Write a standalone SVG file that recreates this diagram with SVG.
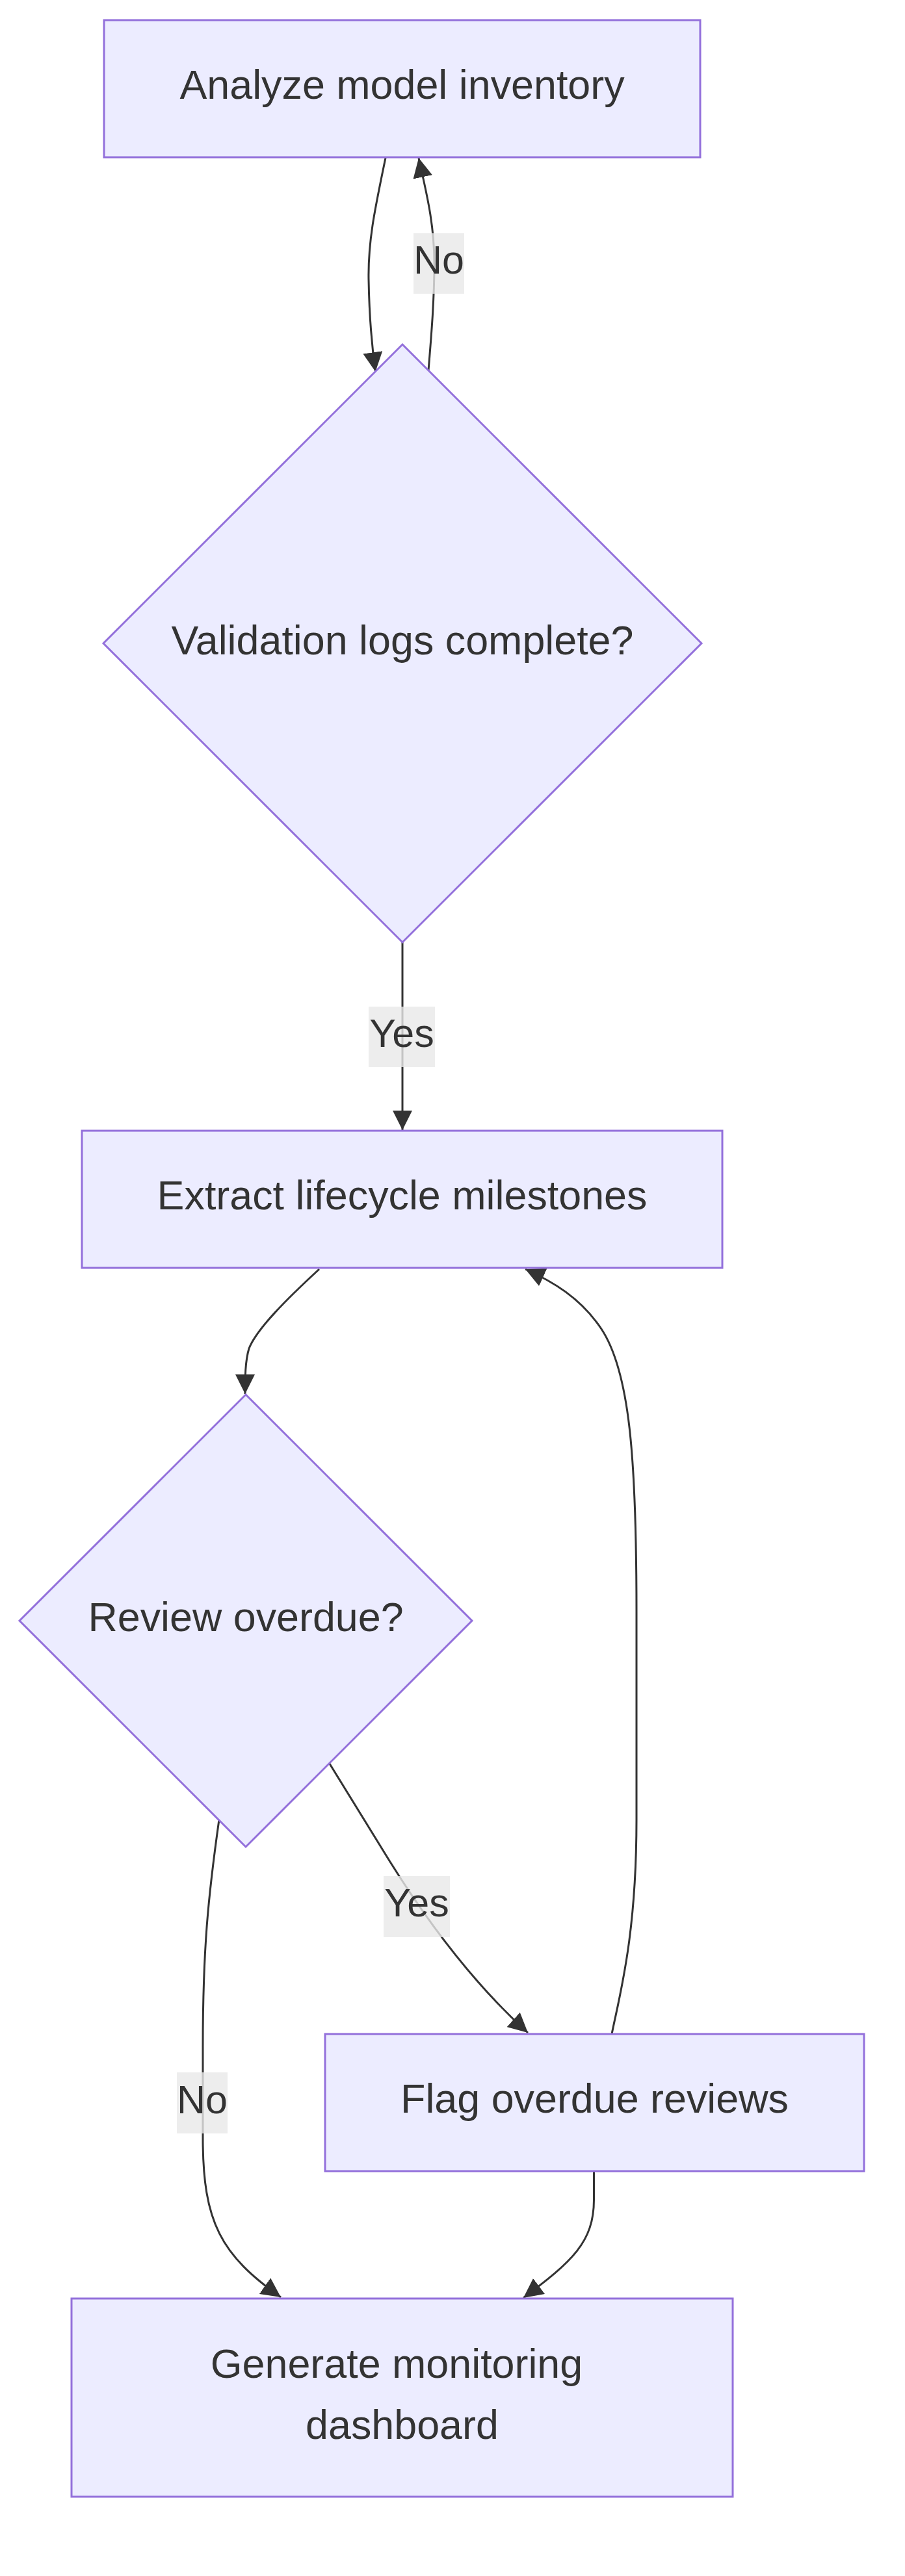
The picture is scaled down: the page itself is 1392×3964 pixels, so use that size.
<svg xmlns="http://www.w3.org/2000/svg" width="1392" height="3964" viewBox="0 0 1392 3964">
<style>
.node{fill:#ECECFF;stroke:#9370DB;stroke-width:3}
.edge{fill:none;stroke:#333333;stroke-width:3}
.lbl{fill:#e8e8e8;fill-opacity:0.8}
text{font-family:"Liberation Sans",Arial,sans-serif;fill:#333333;text-anchor:middle}
.nt{font-size:62.8px}
.lt{font-size:61px}
</style>
<defs>
<marker id="arrow" viewBox="0 0 10 10" refX="10" refY="5" markerUnits="userSpaceOnUse" markerWidth="30" markerHeight="30" orient="auto">
<path d="M0,0 L10,5 L0,10 z" fill="#333333"/>
</marker>
</defs>
<rect width="1392" height="3964" fill="#ffffff"/>
<g id="connectors">
<path class="edge" marker-end="url(#arrow)" d="M593,243 C577,320 566,370 567,430 C568,490 573,540 577.5,572"/>
<path class="edge" marker-end="url(#arrow)" d="M659,570 C664,510 668,460 668,405 C668,340 654,290 644,243"/>
<path class="edge" marker-end="url(#arrow)" d="M619,1450 L619,1739"/>
<path class="edge" marker-end="url(#arrow)" d="M491,1953 C440,2000 395,2045 383,2075 C377,2095 377,2120 377,2145"/>
<path class="edge" marker-end="url(#arrow)" d="M941,3130 C953,3070 979,2980 979,2800 L979,2480 C979,2240 968,2110 925,2045 C893,1997 850,1972 808,1953"/>
<path class="edge" marker-end="url(#arrow)" d="M507,2714 L600,2865 C650,2945 720,3045 812,3128"/>
<path class="edge" marker-end="url(#arrow)" d="M337,2800 C320,2920 312,3000 312,3150 L312,3290 C312,3420 340,3470 432,3535"/>
<path class="edge" marker-end="url(#arrow)" d="M913.5,3341 L913.5,3385 C913.5,3450 880,3480 805,3536"/>
<rect class="lbl" x="636" y="359" width="78" height="93"/>
<text class="lt" x="675" y="421">No</text>
<rect class="lbl" x="567" y="1549" width="102" height="93"/>
<text class="lt" x="618" y="1611">Yes</text>
<rect class="lbl" x="590" y="2887" width="102" height="94"/>
<text class="lt" x="641" y="2949">Yes</text>
<rect class="lbl" x="272" y="3189" width="78" height="94"/>
<text class="lt" x="311" y="3252">No</text>
</g>
<g id="node-analyze">
<rect class="node" x="160" y="31" width="917" height="211"/>
<text class="nt" x="618.5" y="152">Analyze model inventory</text>
</g>
<g id="node-validation">
<polygon class="node" points="619,530 1079,990 619,1450 159,990"/>
<text class="nt" x="619" y="1007">Validation logs complete?</text>
</g>
<g id="node-extract">
<rect class="node" x="126" y="1740" width="985" height="211"/>
<text class="nt" x="618.5" y="1861">Extract lifecycle milestones</text>
</g>
<g id="node-review">
<polygon class="node" points="378,2146 726,2494 378,2842 30,2494"/>
<text class="nt" x="378" y="2510">Review overdue?</text>
</g>
<g id="node-flag">
<rect class="node" x="500" y="3130" width="829" height="211"/>
<text class="nt" x="914.5" y="3251">Flag overdue reviews</text>
</g>
<g id="node-generate">
<rect class="node" x="110" y="3537" width="1017" height="305"/>
<text class="nt" x="610" y="3659">Generate monitoring</text>
<text class="nt" x="618.5" y="3753">dashboard</text>
</g>
</svg>
